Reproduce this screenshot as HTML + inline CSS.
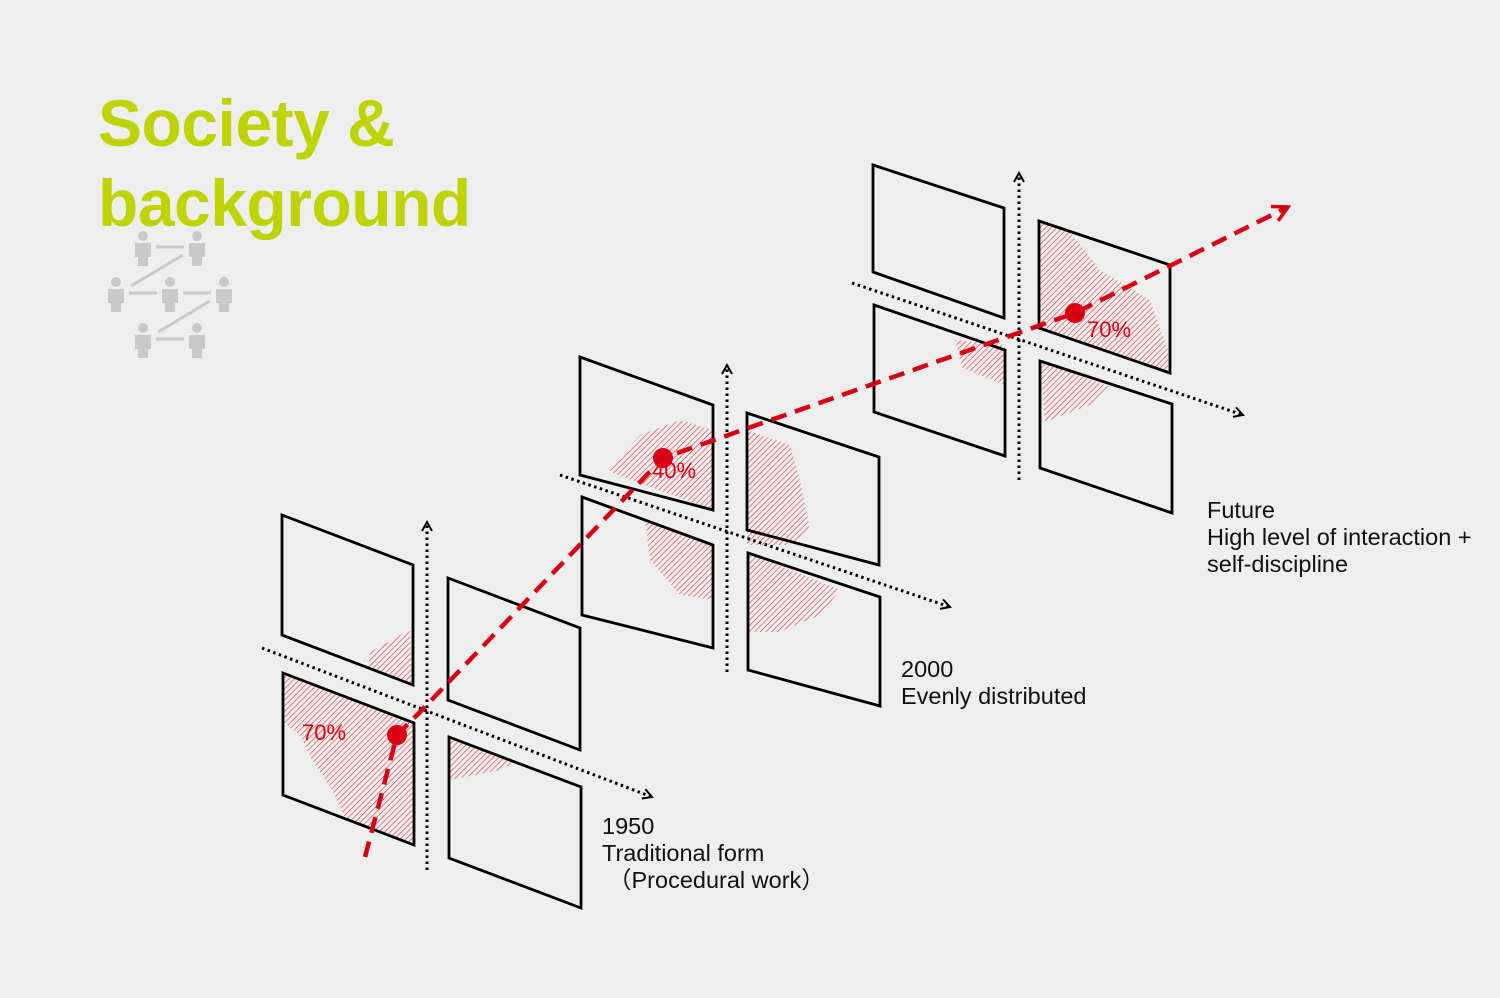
<!DOCTYPE html>
<html><head><meta charset="utf-8"><style>
html,body{margin:0;padding:0;background:#eeeeee;}
svg{display:block;}
</style></head><body>
<svg width="1500" height="998" viewBox="0 0 1500 998" xmlns="http://www.w3.org/2000/svg">
<defs>
<pattern id="h" patternUnits="userSpaceOnUse" width="4" height="4" patternTransform="rotate(45)">
<line x1="0" y1="0" x2="0" y2="4" stroke="#e0303a" stroke-width="1.2"/>
</pattern>
<marker id="ab" markerWidth="14" markerHeight="14" refX="11" refY="7" orient="auto" markerUnits="userSpaceOnUse">
<path d="M2,2 L11,7 L2,12" fill="none" stroke="#000" stroke-width="2"/></marker>
<marker id="ar" markerWidth="22" markerHeight="22" refX="18" refY="11" orient="auto" markerUnits="userSpaceOnUse">
<path d="M3,3 L18,11 L3,19" fill="none" stroke="#d90012" stroke-width="3.5"/></marker>
<g id="p" fill="#c9c9c9"><circle cx="0" cy="0" r="5"/><path d="M-8,7 h16 v14 h-3 v9 h-10 v-9 h-3z"/></g>
</defs>
<rect width="1500" height="998" fill="#eeeeee"/>
<text x="98" y="146" font-family="Liberation Sans, sans-serif" font-weight="bold" font-size="66" fill="#bfd300" letter-spacing="-0.5">Society &amp;</text>
<text x="98" y="226" font-family="Liberation Sans, sans-serif" font-weight="bold" font-size="66" fill="#bfd300" letter-spacing="-0.5">background</text>
<use href="#p" x="143" y="236"/><use href="#p" x="197" y="236"/>
<use href="#p" x="116" y="282"/><use href="#p" x="170" y="282"/><use href="#p" x="224" y="282"/>
<use href="#p" x="143" y="328"/><use href="#p" x="197" y="328"/>
<g stroke="#c9c9c9" stroke-width="3">
<line x1="156" y1="247" x2="184" y2="247"/><line x1="129" y1="293" x2="157" y2="293"/><line x1="183" y1="293" x2="211" y2="293"/><line x1="156" y1="339" x2="184" y2="339"/>
<line x1="183" y1="255" x2="131" y2="286"/><line x1="210" y1="301" x2="158" y2="332"/>
</g>
<g fill="url(#h)">
<polygon points="283,673 413,723 413,845 345,818 332,790 312,760 300,735 283,722"/>
<polygon points="370,652 410,630 413,685 368,668"/>
<polygon points="449,737 515,762 500,770 460,778 449,780"/>
<polygon points="610,468 640,435 680,420 713,430 713,510 610,472"/>
<polygon points="747,430 790,445 800,480 810,530 790,545 747,545"/>
<polygon points="645,520 713,545 713,600 680,595 650,560"/>
<polygon points="748,553 840,590 820,615 780,632 748,632"/>
<polygon points="1039,221 1070,232 1100,270 1150,300 1168,350 1168,372 1090,345 1039,330"/>
<polygon points="955,340 1005,345 1005,385 962,368"/>
<polygon points="1040,361 1110,387 1090,405 1045,422"/>
</g>
<g fill="none" stroke="#000" stroke-width="2.8">
<polygon points="282,515 413,565 413,685 282,635"/>
<polygon points="283,673 414,723 414,845 283,795"/>
<polygon points="448,578 580,628 580,750 448,700"/>
<polygon points="449,737 581,787 581,908 449,858"/>
<polygon points="580,357 713,405 713,510 580,475"/>
<polygon points="582,497 713,545 713,648 582,615"/>
<polygon points="747,413 879,457 879,565 747,530"/>
<polygon points="748,553 880,597 880,706 748,670"/>
<polygon points="873,165 1004,208 1004,318 873,272"/>
<polygon points="874,305 1005,350 1005,456 874,412"/>
<polygon points="1039,221 1170,265 1170,373 1039,328"/>
<polygon points="1040,361 1172,404 1172,513 1040,468"/>
</g>
<g stroke="#000" stroke-width="3" stroke-dasharray="2.5 3.5" fill="none" marker-end="url(#ab)">
<line x1="427" y1="870" x2="427" y2="522"/>
<line x1="262" y1="648" x2="652" y2="797"/>
<line x1="727" y1="672" x2="727" y2="365"/>
<line x1="560" y1="475" x2="950" y2="607"/>
<line x1="1019" y1="480" x2="1019" y2="173"/>
<line x1="852" y1="283" x2="1243" y2="415"/>
</g>
<polyline points="365,857 397,735 420,712 663,458 1075,313 1288,207" fill="none" stroke="#d90012" stroke-width="4.5" stroke-dasharray="16 9" marker-end="url(#ar)"/>
<g fill="#d90012"><circle cx="397" cy="735" r="10"/><circle cx="663" cy="458" r="10"/><circle cx="1075" cy="313" r="10"/></g>
<g font-family="Liberation Sans, sans-serif" font-size="22" fill="#d90012">
<text x="302" y="740">70%</text><text x="652" y="478">40%</text><text x="1087" y="337">70%</text>
</g>
<g font-family="Liberation Sans, sans-serif" font-size="23.5" fill="#111">
<text x="602" y="834">1950</text><text x="602" y="861">Traditional form</text><text x="608" y="888">（Procedural work）</text>
<text x="901" y="677">2000</text><text x="901" y="704">Evenly distributed</text>
<text x="1207" y="518">Future</text><text x="1207" y="545">High level of interaction +</text><text x="1207" y="572">self-discipline</text>
</g>
</svg>
</body></html>
